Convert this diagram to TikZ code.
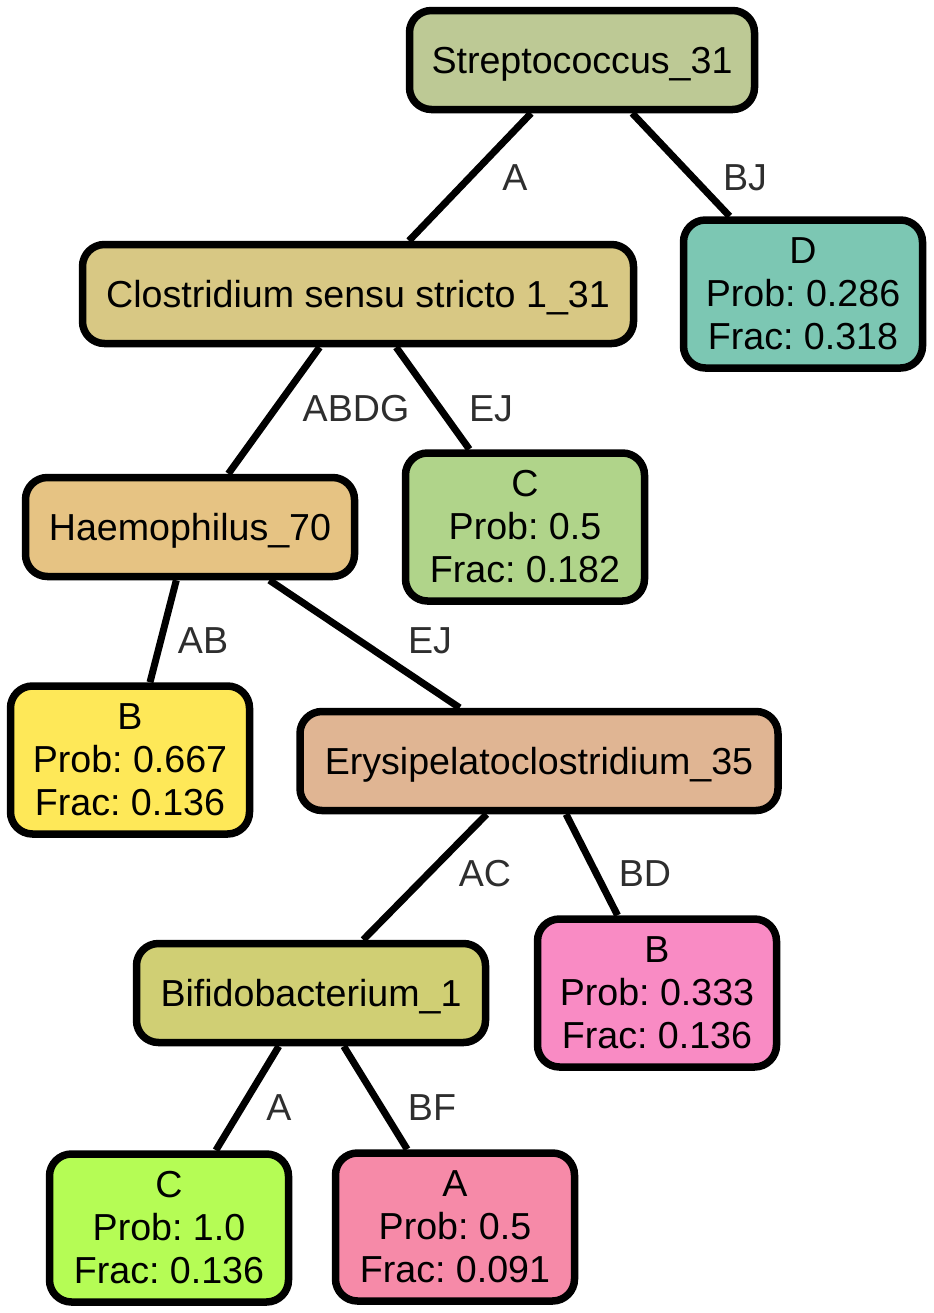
\documentclass[tikz,border=0pt]{standalone}
\usepackage{fontspec}
\setmainfont{Liberation Sans}
\frenchspacing
\definecolor{cStrep}{HTML}{BDC995}
\definecolor{cClos}{HTML}{D8C884}
\definecolor{cD}{HTML}{7CC7B3}
\definecolor{cHaem}{HTML}{E6C383}
\definecolor{cCa}{HTML}{B0D48A}
\definecolor{cBa}{HTML}{FEE858}
\definecolor{cEry}{HTML}{E0B593}
\definecolor{cBif}{HTML}{D0CF74}
\definecolor{cBb}{HTML}{F98BC4}
\definecolor{cCb}{HTML}{B5FC55}
\definecolor{cAa}{HTML}{F68AA8}
\definecolor{lblgray}{HTML}{2E2E2E}
\tikzset{
  tnode/.style={draw=black, line width=3.75pt, rounded corners=11pt, inner sep=0pt,
    minimum height=49.5pt, align=center, font=\fontsize{18.8}{21.5}\selectfont},
  inode/.style={tnode, text depth=0pt},
  leaf/.style={tnode, minimum height=74pt, minimum width=119.5pt},
  elabel/.style={text=lblgray, inner sep=0pt, font=\fontsize{18.8}{21.5}\selectfont},
  conn/.style={draw=black, line width=3.5pt}
}
\begin{document}
\begin{tikzpicture}[x=0.5pt,y=-0.5pt]
\useasboundingbox (0,0) rectangle (933,1313);
% nodes
\node[inode, fill=cStrep, minimum width=172.5pt] (strep) at (582,60) {Streptococcus\_31};
\node[inode, fill=cClos, minimum width=275.5pt] (clos) at (358,294) {Clostridium sensu stricto 1\_31};
\node[leaf, fill=cD] (D) at (803,294) {D\\Prob: 0.286\\Frac: 0.318};
\node[inode, fill=cHaem, minimum width=164.5pt] (haem) at (190,527) {Haemophilus\_70};
\node[leaf, fill=cCa] (Ca) at (525,527) {C\\Prob: 0.5\\Frac: 0.182};
\node[leaf, fill=cBa] (Ba) at (130,760) {B\\Prob: 0.667\\Frac: 0.136};
\node[inode, fill=cEry, minimum width=239pt] (ery) at (539,761) {Erysipelatoclostridium\_35};
\node[inode, fill=cBif, minimum width=174.5pt] (bif) at (311,993) {Bifidobacterium\_1};
\node[leaf, fill=cBb] (Bb) at (657,993) {B\\Prob: 0.333\\Frac: 0.136};
\node[leaf, fill=cCb] (Cb) at (169,1228) {C\\Prob: 1.0\\Frac: 0.136};
\node[leaf, fill=cAa] (Aa) at (455,1227) {A\\Prob: 0.5\\Frac: 0.091};
% connectors
\draw[conn] (strep) -- (clos);
\draw[conn] (strep) -- (D);
\draw[conn] (clos) -- (haem);
\draw[conn] (clos) -- (Ca);
\draw[conn] (haem) -- (Ba);
\draw[conn] (haem) -- (ery);
\draw[conn] (ery) -- (bif);
\draw[conn] (ery) -- (Bb);
\draw[conn] (bif) -- (Cb);
\draw[conn] (bif) -- (Aa);
% edge labels
\node[elabel] (l1) at (515,178) {A};
\node[elabel] (l2) at (745,178) {BJ};
\node[elabel] (l3) at (356,409) {ABDG};
\node[elabel] (l4) at (491,409) {EJ};
\node[elabel] (l5) at (203,641) {AB};
\node[elabel] (l6) at (430,641) {EJ};
\node[elabel] (l7) at (485,874) {AC};
\node[elabel] (l8) at (645,874) {BD};
\node[elabel] (l9) at (279,1108) {A};
\node[elabel] (l10) at (432,1108) {BF};
\end{tikzpicture}
\end{document}
